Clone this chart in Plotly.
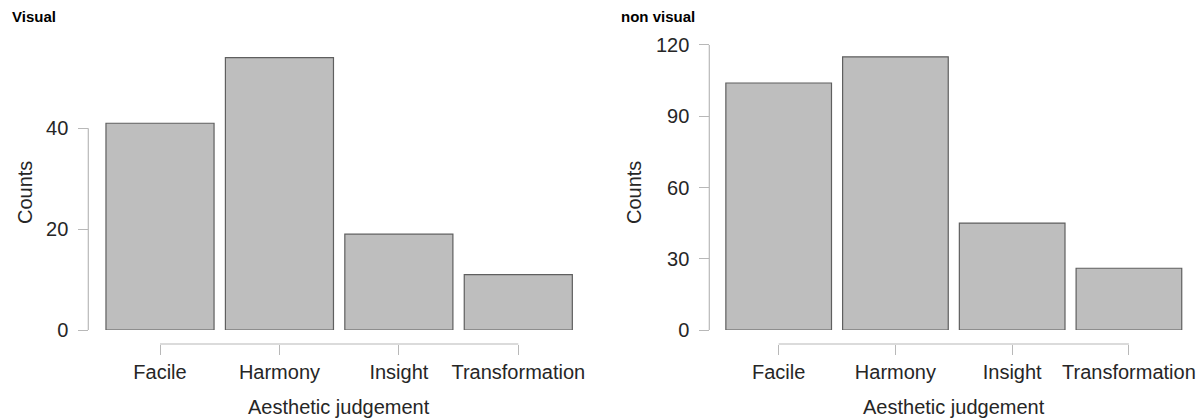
import plotly.graph_objects as go

W, H = 1203, 420

categories = ["Facile", "Harmony", "Insight", "Transformation"]
visual_counts = [41, 54, 19, 11]
nonvisual_counts = [104, 115, 45, 26]
visual_ticks = [0, 20, 40]
nonvisual_ticks = [0, 30, 60, 90, 120]
panel_titles = ["Visual", "non visual"]
x_title = "Aesthetic judgement"
y_title = "Counts"

FONT = "Liberation Sans, Arial, Helvetica, sans-serif"
TXT = "#262626"
AX = "#b8b8b8"

def px(x):
    return x / W

def py(y):
    return (H - y) / H

idx = list(range(len(categories)))

fig = go.Figure()
bar_style = dict(marker=dict(color="#bebebe", line=dict(color="#5f5f5f", width=1.2)),
                 showlegend=False, hoverinfo="x+y")
fig.add_trace(go.Bar(x=idx, y=visual_counts, xaxis="x", yaxis="y",
                     hovertext=categories, **bar_style))
fig.add_trace(go.Bar(x=idx, y=nonvisual_counts, xaxis="x2", yaxis="y2",
                     hovertext=categories, **bar_style))

ydom = [py(330), py(42)]
xaxis_common = dict(range=[-0.5, len(categories) - 0.5], showgrid=False, zeroline=False,
                    showline=False, ticks="outside", ticklen=10, tickwidth=1, tickcolor=AX,
                    tickvals=idx, ticktext=categories, anchor="free", position=py(344),
                    tickfont=dict(family=FONT, size=20, color=TXT), fixedrange=True,
                    automargin=False)
yaxis_common = dict(showgrid=False, zeroline=False, showline=False, ticks="outside",
                    ticklen=10, tickwidth=1, tickcolor=AX, domain=ydom, anchor="free",
                    tickfont=dict(family=FONT, size=20, color=TXT), ticklabelstandoff=6,
                    fixedrange=True, automargin=False)

fig.update_layout(
    width=W, height=H, autosize=False, margin=dict(l=0, r=0, t=0, b=0, pad=0, autoexpand=False),
    plot_bgcolor="white", paper_bgcolor="white", bargap=0.095,
    xaxis=dict(domain=[px(100.3), px(578.0)], **xaxis_common),
    xaxis2=dict(domain=[px(720.3), px(1187.3)], **xaxis_common),
    yaxis=dict(range=[0, 57.11], tickvals=visual_ticks, position=px(88.3), **yaxis_common),
    yaxis2=dict(range=[0, 121.26], tickvals=nonvisual_ticks, position=px(709.3), **yaxis_common),
)

shapes = []
for xref, yref, ax_x, ticks in [("x", "y", px(88.3), visual_ticks),
                                ("x2", "y2", px(709.3), nonvisual_ticks)]:
    shapes.append(dict(type="line", xref="paper", yref=yref, x0=ax_x, x1=ax_x,
                       y0=min(ticks), y1=max(ticks), line=dict(color=AX, width=1.2)))
    shapes.append(dict(type="line", xref=xref, yref="paper", x0=idx[0], x1=idx[-1],
                       y0=py(344), y1=py(344), line=dict(color=AX, width=1.2)))
fig.update_layout(shapes=shapes)

annotations = []
for title, tx in zip(panel_titles, [10, 619]):
    annotations.append(dict(text=f"<b>{title}</b>", x=px(tx), y=py(17), xref="paper", yref="paper",
                            xanchor="left", yanchor="middle", showarrow=False,
                            font=dict(family=FONT, size=15, color="black")))
for cx in [339, 954]:
    annotations.append(dict(text=x_title, x=px(cx), y=py(407), xref="paper", yref="paper",
                            xanchor="center", yanchor="middle", showarrow=False,
                            font=dict(family=FONT, size=20, color=TXT)))
for cx in [25, 634]:
    annotations.append(dict(text=y_title, x=px(cx), y=py(193), xref="paper", yref="paper",
                            xanchor="center", yanchor="middle", showarrow=False, textangle=-90,
                            font=dict(family=FONT, size=20, color=TXT)))
fig.update_layout(annotations=annotations)

fig.write_html("out.html", config={"displayModeBar": False},
               post_script="document.body.style.margin='0';document.body.style.overflow='hidden';")
